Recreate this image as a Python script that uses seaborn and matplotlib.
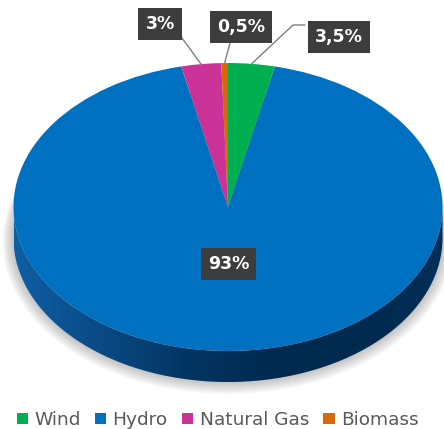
import numpy as np
import matplotlib
matplotlib.use('Agg')
import matplotlib.pyplot as plt
import seaborn as sns
from matplotlib.patches import Polygon, Patch, Ellipse
from matplotlib.colors import LinearSegmentedColormap

categories = ['Wind', 'Hydro', 'Natural Gas', 'Biomass']
values = [3.5, 93, 3, 0.5]
pct_labels = ['3,5%', '93%', '3%', '0,5%']
colors = ['#00b050', '#0070c0', '#cc3399', '#d9680a']

sns.set_theme(style='white')
plt.rcParams['font.family'] = ['DejaVu Sans']

W, H = 444, 429
fig = plt.figure(figsize=(W / 100, H / 100), dpi=100)
ax = fig.add_axes([0, 0, 1, 1])

# ellipse geometry in pixels (from top)
cx, cy, a, b = 228, 207, 214.5, 144
depth = 31 / b


def d(px, py):
    return ((px - cx) / a, (cy - py) / b)


# soft shadow
for i in range(14):
    ax.add_patch(Ellipse((0, -depth - 0.002 * i), 2 + 0.008 * i, 2 + 0.009 * i,
                         color='0.4', alpha=0.03, lw=0, zorder=0))

# side of the 3D pie
t = np.linspace(np.pi, 2 * np.pi, 300)
lower = np.column_stack([np.cos(t), np.sin(t) - depth])
upper = np.column_stack([np.cos(t[::-1]), np.sin(t[::-1])])
side = Polygon(np.vstack([lower, upper]), closed=True, fc='none', ec='none')
ax.add_patch(side)
cmap = LinearSegmentedColormap.from_list(
    'side', ['#0f5ea3', '#0a4a85', '#033563', '#012a50', '#012a4f', '#022f58'])
grad = np.linspace(0, 1, 256)[None, :]
im = ax.imshow(grad, cmap=cmap, extent=(-1, 1, -1 - depth, 0), aspect='auto', zorder=1)
im.set_clip_path(side)

wedges, _ = ax.pie(values, colors=colors, startangle=90, counterclock=False,
                   radius=1, wedgeprops=dict(linewidth=0))
for w in wedges:
    w.set_zorder(2)

ax.set_aspect('auto')
ax.set_xlim((0 - cx) / a, (W - cx) / a)
ax.set_ylim((cy - H) / b, cy / b)
ax.axis('off')

box = dict(boxstyle='square,pad=0.42', fc='#3d3d3d', ec='none')
tkw = dict(color='white', fontsize=12.5, fontweight='bold', ha='center', va='center',
           zorder=5, bbox=box)

mids = [np.deg2rad((w.theta1 + w.theta2) / 2) for w in wedges]
pts = [(np.cos(m), np.sin(m)) for m in mids]

# label positions (pixels from top)
label_pos = {0: (339, 37), 1: (228.5, 264), 2: (160, 24), 3: (241, 27)}
for i, lab in enumerate(pct_labels):
    ax.text(*d(*label_pos[i]), lab, **tkw)

lc = dict(color='#7f7f7f', lw=1, zorder=4)
# Wind leader (elbow)
p1 = d(305, 25); p2 = d(293, 25)
ax.plot([p1[0], p2[0], pts[0][0]], [p1[1], p2[1], pts[0][1]], **lc)
# Natural gas leader
p = d(182, 38)
ax.plot([p[0], pts[2][0]], [p[1], pts[2][1]], **lc)
# Biomass leader
p = d(230, 43)
ax.plot([p[0], pts[3][0]], [p[1], pts[3][1]], **lc)

handles = [Patch(facecolor=c, edgecolor='none') for c in colors]
leg = fig.legend(handles, categories, loc='center', ncol=4,
                 bbox_to_anchor=(217.5 / W, (H - 420) / H), frameon=False,
                 prop={'family': 'DejaVu Sans', 'size': 13.3},
                 handlelength=0.62, handleheight=0.62, handletextpad=0.33,
                 columnspacing=0.78, labelcolor='#595959',
                 borderpad=0, borderaxespad=0)

fig.savefig('out.png', dpi=100)
